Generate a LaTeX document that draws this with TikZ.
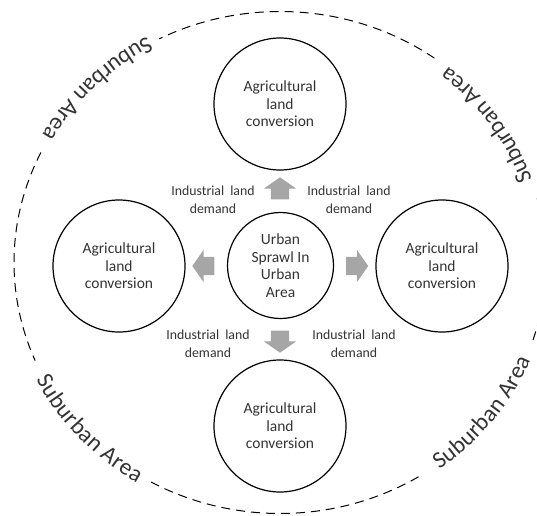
\documentclass[tikz,border=0pt]{standalone}
\usepackage{fontspec}
\setmainfont{Carlito}
\usetikzlibrary{shapes.arrows,decorations.text}
\definecolor{txt}{HTML}{333333}
\definecolor{arr}{HTML}{A6A6A6}
\begin{document}
\begin{tikzpicture}[x=1pt,y=1pt,
  bigcirc/.style={circle, draw=black, line width=1.2pt, minimum size=132pt, inner sep=0pt, align=center, text=txt, font=\fontsize{15.5}{17.5}\selectfont},
  midcirc/.style={bigcirc, minimum size=106pt},
  fat/.style={single arrow, fill=arr, draw=none, minimum height=22pt, inner xsep=0pt, inner ysep=9pt, single arrow head extend=7pt, single arrow tip angle=110},
  lbl/.style={align=center, text=txt, font=\fontsize{13.8}{18.5}\selectfont, inner sep=0pt},
  subtext/.style={decorate, decoration={text along path, text align=center, raise=#1, text color=txt, text={|\fontsize{23.5}{27}\selectfont|Suburban Area}}},
  subtext/.default=-7.5pt,
  rim/.style={draw=black, line width=1pt, dash pattern=on 9pt off 6pt}
]
\useasboundingbox (0,0) rectangle (537,515);
\coordinate (O) at (280,252.5);

% dashed outer boundary (interrupted by the labels)
\path[rim] (O) ++(54.5:266pt and 251pt) arc[start angle=54.5, end angle=117, x radius=266pt, y radius=251pt];
\path[rim] (O) ++(154:266pt and 251pt) arc[start angle=154, end angle=203, x radius=266pt, y radius=251pt];
\path[rim] (O) ++(241:266pt and 251pt) arc[start angle=241, end angle=302.5, x radius=266pt, y radius=251pt];
\path[rim] (O) ++(342:266pt and 251pt) arc[start angle=342, end angle=375, x radius=266pt, y radius=251pt];

% labels along the boundary
\path[subtext=-1pt] (O) ++(10:266pt and 251pt) arc[start angle=10, end angle=60, x radius=266pt, y radius=251pt];
\path[subtext] (O) ++(110:266pt and 251pt) arc[start angle=110, end angle=160, x radius=266pt, y radius=251pt];
\path[subtext] (O) ++(197.5:266pt and 251pt) arc[start angle=197.5, end angle=247.5, x radius=266pt, y radius=251pt];
\path[subtext=-5pt] (O) ++(297:266pt and 251pt) arc[start angle=297, end angle=347, x radius=266pt, y radius=251pt];

% circles
\node[midcirc] (urban) at (280.5,249.5) {Urban\\Sprawl In\\Urban\\Area};
\node[bigcirc] (top) at (280,411) {Agricultural\\land\\conversion};
\node[bigcirc] (bottom) at (280,89) {Agricultural\\land\\conversion};
\node[bigcirc] (left) at (119,249) {Agricultural\\land\\conversion};
\node[bigcirc] (right) at (442,249) {Agricultural\\land\\conversion};

% block arrows
\node[fat, rotate=90] (aup) at (280,323.5) {};
\node[fat, rotate=-90] (adown) at (280,176.5) {};
\node[fat, rotate=180] (aleft) at (206.5,249) {};
\node[fat] (aright) at (354,249) {};

% demand labels
\node[lbl] (ltl) at (213,315) {Industrial\hspace{6pt}land\\demand};
\node[lbl] (ltr) at (349,315) {Industrial\hspace{6pt}land\\demand};
\node[lbl] (lbl) at (208,171) {Industrial\hspace{6pt}land\\demand};
\node[lbl] (lbr) at (354,171) {Industrial\hspace{6pt}land\\demand};
\end{tikzpicture}
\end{document}
